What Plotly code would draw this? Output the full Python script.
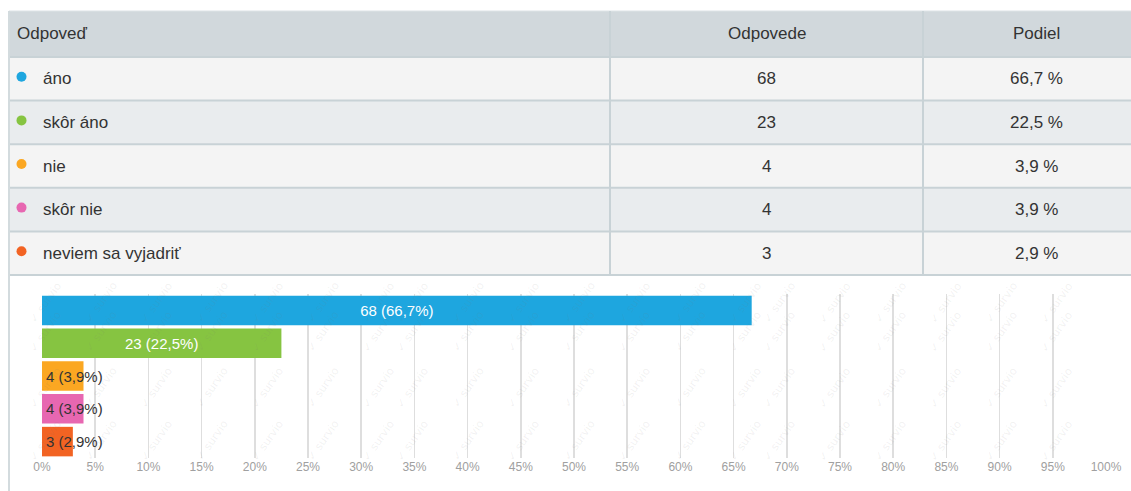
import plotly.graph_objects as go
import numpy as np

# Survey answers
answers = ["áno", "skôr áno", "nie", "skôr nie", "neviem sa vyjadriť"]
counts = [68, 23, 4, 4, 3]
shares = [66.7, 22.5, 3.9, 3.9, 2.9]
colors = ["#1ea6df", "#86c441", "#fba722", "#e767b1", "#f26323"]
header_labels = ["Odpoveď", "Odpovede", "Podiel"]
tick_values = list(range(0, 101, 5))
tick_labels = [f"{v}%" for v in tick_values]

W, H = 1131, 491
FONT = "Liberation Sans, Arial, sans-serif"
TEXT = "#333333"
LINE = "#c8d2d6"


def px(v):
    return v / W


def py(v):
    return 1 - v / H


def fmt(v):
    return f"{v:.1f}".replace(".", ",")


fig = go.Figure()

# Horizontal bar chart of shares
fig.add_trace(go.Bar(
    x=shares,
    y=answers,
    orientation="h",
    marker=dict(color=colors, line=dict(width=0)),
    text=[f"{c} ({fmt(s)}%)" if s >= 10 else "" for c, s in zip(counts, shares)],
    textposition="inside",
    insidetextanchor="middle",
    textfont=dict(family=FONT, size=15, color="white"),
    hoverinfo="skip",
))

shapes = []
annotations = []

# Labels for bars too short to hold their text
for a, c, s in zip(answers, counts, shares):
    if s < 10:
        annotations.append(dict(
            x=0, y=a, xref="x", yref="y", xanchor="left", xshift=2,
            text=f"{c} ({fmt(s)}%)", showarrow=False,
            font=dict(family=FONT, size=15, color=TEXT),
        ))

# Summary table above the chart
tbl_left, tbl_right = 9, W
col_edges = [9, 610, 923, 1149]
header_top, header_bottom = 11, 57
row_h = (275 - header_bottom) / len(answers)
row_fill = ["#f4f4f4", "#e9ecee"]

shapes.append(dict(type="rect", xref="paper", yref="paper", layer="below",
                   x0=px(tbl_left), x1=px(tbl_right), y0=py(header_bottom), y1=py(header_top),
                   fillcolor="#d1d8dc", line=dict(width=0)))
for i in range(len(answers)):
    top = header_bottom + i * row_h
    shapes.append(dict(type="rect", xref="paper", yref="paper", layer="below",
                       x0=px(tbl_left), x1=px(tbl_right), y0=py(top + row_h), y1=py(top),
                       fillcolor=row_fill[i % 2], line=dict(width=0)))

for i in range(len(answers) + 1):
    yy = header_bottom + i * row_h
    shapes.append(dict(type="line", xref="paper", yref="paper",
                       x0=px(tbl_left), x1=px(tbl_right), y0=py(yy), y1=py(yy),
                       line=dict(color=LINE, width=2)))
shapes.append(dict(type="line", xref="paper", yref="paper",
                   x0=px(tbl_left), x1=px(tbl_right), y0=py(header_top), y1=py(header_top),
                   line=dict(color="#dde3e6", width=1)))
for xx in col_edges[1:3]:
    shapes.append(dict(type="line", xref="paper", yref="paper",
                       x0=px(xx), x1=px(xx), y0=py(275), y1=py(header_top),
                       line=dict(color=LINE, width=2)))
# Left border runs down the whole panel
shapes.append(dict(type="line", xref="paper", yref="paper",
                   x0=px(tbl_left), x1=px(tbl_left), y0=0, y1=py(header_top),
                   line=dict(color="#d3dbde", width=2)))

col_centers = [(col_edges[1] + col_edges[2]) / 2, (col_edges[2] + col_edges[3]) / 2]
hy = (header_top + header_bottom) / 2
annotations.append(dict(x=px(15), y=py(hy), xref="paper", yref="paper", xanchor="left",
                        yanchor="middle", text=header_labels[0], showarrow=False,
                        font=dict(family=FONT, size=17, color=TEXT)))
for lbl, cx in zip(header_labels[1:], col_centers):
    annotations.append(dict(x=px(cx), y=py(hy), xref="paper", yref="paper", xanchor="center",
                            yanchor="middle", text=lbl, showarrow=False,
                            font=dict(family=FONT, size=17, color=TEXT)))

for i, (a, c, s, col) in enumerate(zip(answers, counts, shares, colors)):
    cy = header_bottom + i * row_h + row_h / 2
    shapes.append(dict(type="circle", xref="paper", yref="paper",
                       x0=px(16.5), x1=px(26.5), y0=py(cy + 3), y1=py(cy - 7),
                       fillcolor=col, line=dict(width=0)))
    annotations.append(dict(x=px(41), y=py(cy), xref="paper", yref="paper", xanchor="left",
                            yanchor="middle", text=a, showarrow=False,
                            font=dict(family=FONT, size=17, color=TEXT)))
    annotations.append(dict(x=px(col_centers[0]), y=py(cy), xref="paper", yref="paper",
                            xanchor="center", yanchor="middle", text=str(c), showarrow=False,
                            font=dict(family=FONT, size=17, color=TEXT)))
    annotations.append(dict(x=px(col_centers[1]), y=py(cy), xref="paper", yref="paper",
                            xanchor="center", yanchor="middle", text=f"{fmt(s)} %",
                            showarrow=False, font=dict(family=FONT, size=17, color=TEXT)))

# Faint diagonal watermark over the chart panel, kept inside the page
for wx in np.arange(24, 1115, 55.5):
    for wy in (302, 357, 413, 466):
        annotations.append(dict(
            x=px(wx), y=py(wy), xref="paper", yref="paper",
            text="✓ survio", showarrow=False, textangle=-55,
            font=dict(family="DejaVu Sans", size=11, color="rgba(120,120,120,0.10)"),
        ))

fig.update_layout(
    width=W, height=H,
    margin=dict(l=0, r=0, t=0, b=0, pad=0, autoexpand=False),
    paper_bgcolor="white",
    plot_bgcolor="rgba(0,0,0,0)",
    showlegend=False,
    bargap=0.1,
    dragmode=False,
    xaxis=dict(
        domain=[px(42), px(1106)],
        range=[0, 100],
        tickvals=tick_values,
        ticktext=tick_labels,
        showgrid=True, gridcolor="#dedede", gridwidth=1.5,
        zeroline=False, showline=False, ticks="",
        tickfont=dict(family=FONT, size=12, color="#a0a0a0"),
        automargin=False,
        fixedrange=True,
    ),
    yaxis=dict(
        domain=[py(458), py(294)],
        categoryorder="array", categoryarray=answers,
        autorange="reversed",
        showticklabels=False, showgrid=False, zeroline=False, showline=False,
        automargin=False,
        fixedrange=True,
    ),
    shapes=shapes,
    annotations=annotations,
)

# Static page without body margin so the figure fills the window exactly
fig.write_html(
    "out.html",
    config={"staticPlot": True, "responsive": False, "displayModeBar": False},
    post_script=(
        "document.body.style.margin='0';"
        "document.body.style.overflow='hidden';"
        "document.documentElement.style.overflow='hidden';"
    ),
)
